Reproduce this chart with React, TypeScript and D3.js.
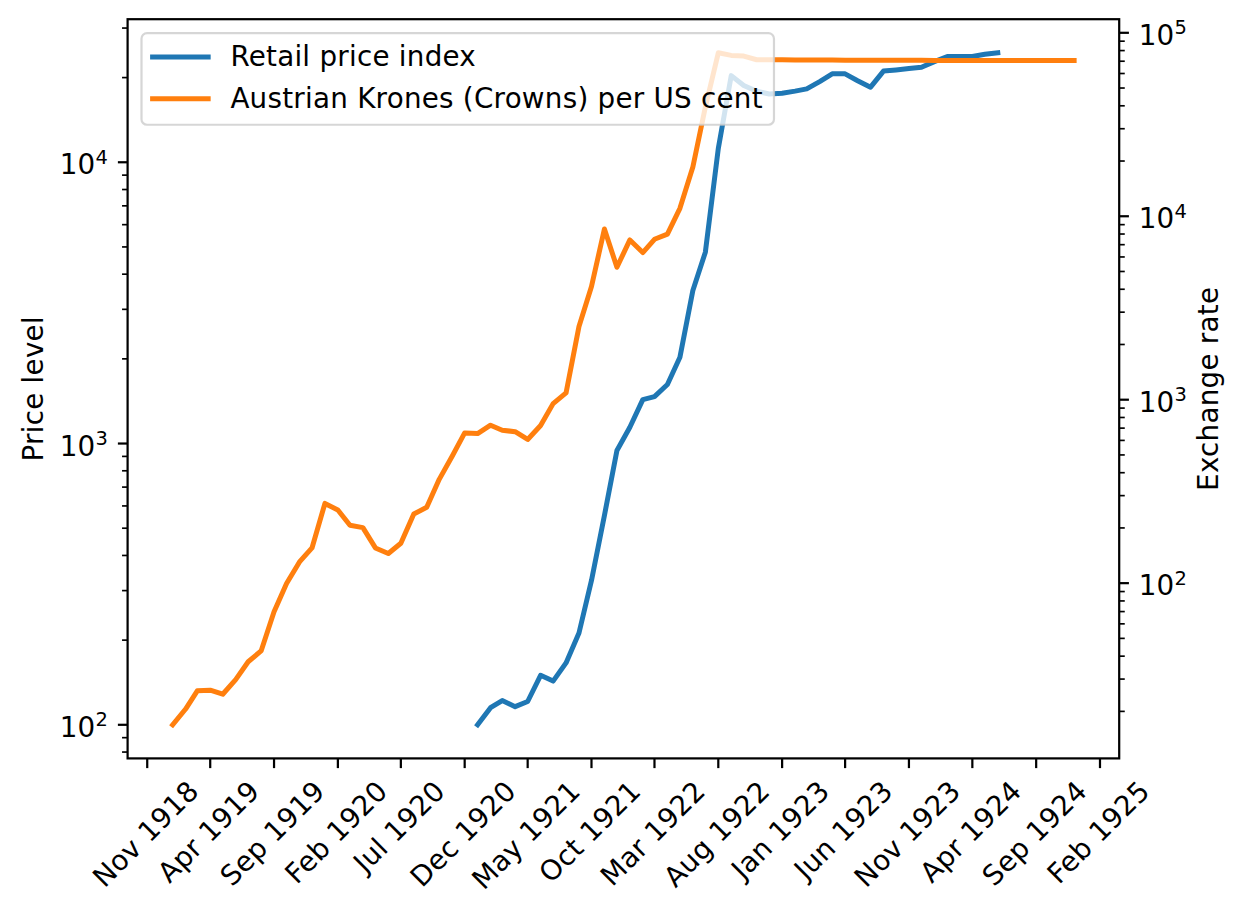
import React from "react";
import * as d3 from "d3";

// ---------------- data ----------------
const exchangeStart = "1919-01-01"; // monthly, Austrian Krones per US cent (right axis)
const exchangeRate = [
  16.9, 20.6, 25.9, 26.1, 24.8, 29.8, 37.3, 42.7, 69.8, 99.6, 130.5, 155.6,
  272, 250.5, 206.7, 200.8, 155.6, 145, 165, 238, 259, 368, 492, 659,
  654, 726, 682, 669, 607, 723, 952, 1089, 2507, 4139, 8518, 5270,
  7430, 6340, 7490, 7990, 11040, 18580, 39370, 77800, 75300, 74650, 71300, 71300,
  71200, 71100, 71000, 71000, 71000, 70900, 70900, 70900, 70800, 70800, 70800, 70800,
  70700, 70700, 70700, 70700, 70700, 70700, 70700, 70700, 70700, 70700, 70700, 70700,
];

const retailStart = "1921-01-01"; // monthly, retail price index (left axis)
const retailPrice = [
  100, 115, 122, 116, 121, 150, 143, 166, 212, 326, 555, 944,
  1143, 1433, 1469, 1621, 2027, 3500, 4790, 11190, 20330, 18750, 17880, 17490,
  17600, 17900, 18230, 19360, 20620, 20620, 19500, 18490, 21090, 21300, 21530, 21770,
  22800, 23770, 23770, 23770, 24200, 24500,
];

const xTickLabels = [
  "Nov 1918", "Apr 1919", "Sep 1919", "Feb 1920", "Jul 1920", "Dec 1920",
  "May 1921", "Oct 1921", "Mar 1922", "Aug 1922", "Jan 1923", "Jun 1923",
  "Nov 1923", "Apr 1924", "Sep 1924", "Feb 1925",
];

const seriesNames = ["Retail price index", "Austrian Krones (Crowns) per US cent"];
const seriesColors = ["#1f77b4", "#ff7f0e"];
const leftLabel = "Price level";
const rightLabel = "Exchange rate";

// ---------------- layout ----------------
const W = 1246;
const H = 916;
const fs = 27.78; // 10pt @ 200dpi
const ls = 0.25; // letter spacing to mimic hinted glyph advances
const left = 127.6;
const top = 19.2;
const pw = 991.6;
const ph = 739.2;
const right = left + pw;
const bottom = top + ph;
const majorLen = 9.72;
const minorLen = 5.56;
const pad = 9.72;
const lw = 5;
const font = "DejaVu Sans";

let ctx: CanvasRenderingContext2D | null = null;
function measure(t: string, size = fs) {
  if (!ctx) ctx = document.createElement("canvas").getContext("2d");
  if (!ctx) return t.length * size * 0.6;
  ctx.font = `${size}px "${font}"`;
  return ctx.measureText(t).width + t.length * ls;
}

function monthly(start: string, vals: number[]) {
  const s = new Date(start + "T00:00:00");
  return vals.map((v, i) => ({ date: d3.timeMonth.offset(s, i), v }));
}

function logDomain(vals: number[]): [number, number] {
  const lo = Math.log10(d3.min(vals)!);
  const hi = Math.log10(d3.max(vals)!);
  const m = (hi - lo) * 0.05;
  return [Math.pow(10, lo - m), Math.pow(10, hi + m)];
}

export default function App() {
  const ex = monthly(exchangeStart, exchangeRate);
  const rp = monthly(retailStart, retailPrice);

  const allDates = [...ex, ...rp].map((d) => +d.date);
  const t0 = d3.min(allDates)!;
  const t1 = d3.max(allDates)!;
  const tm = (t1 - t0) * 0.05;
  const x = d3.scaleTime().domain([new Date(t0 - tm), new Date(t1 + tm)]).range([left, right]);
  const yL = d3.scaleLog().domain(logDomain(retailPrice)).range([bottom, top]);
  const yR = d3.scaleLog().domain(logDomain(exchangeRate)).range([bottom, top]);

  const lineL = d3.line<{ date: Date; v: number }>().x((d) => x(d.date)).y((d) => yL(d.v));
  const lineR = d3.line<{ date: Date; v: number }>().x((d) => x(d.date)).y((d) => yR(d.v));

  const parse = d3.timeParse("%b %Y");
  const xTicks = xTickLabels.map((l) => ({ label: l, date: parse(l)! }));

  const isMajor = (v: number) => Math.abs(Math.log10(v) - Math.round(Math.log10(v))) < 1e-9;
  const ticksL = yL.ticks();
  const ticksR = yR.ticks();

  const supLabel = (v: number, xx: number, yy: number, anchor: "start" | "end", key: string) => (
    <text key={key} x={xx} y={yy + 12} textAnchor={anchor} fontSize={fs} fill="#000">
      10
      <tspan fontSize={fs * 0.7} dy={-10.5}>
        {Math.round(Math.log10(v))}
      </tspan>
    </text>
  );

  // legend
  const lgX = left + 0.5 * fs;
  const lgY = top + 0.5 * fs;
  const bp = 0.4 * fs;
  const handleLen = 2 * fs;
  const textX = lgX + bp + handleLen + 0.8 * fs;
  const maxTW = Math.max(...seriesNames.map((n) => measure(n)));
  const lgW = textX + maxTW + bp - lgX;
  const rowH = fs;
  const lgH = 2 * bp + 2 * rowH + 0.5 * fs;

  return (
    <svg
      width={W}
      height={H}
      style={{ position: "absolute", left: 0, top: 0, background: "#fff", letterSpacing: `${ls}px` }}
      fontFamily={font}
    >
      <defs>
        <clipPath id="plotclip">
          <rect x={left} y={top} width={pw} height={ph} />
        </clipPath>
      </defs>
      <rect x={0} y={0} width={W} height={H} fill="#fff" />

      {/* lines */}
      <g clipPath="url(#plotclip)" fill="none" strokeWidth={lw} strokeLinejoin="round" strokeLinecap="square">
        <path d={lineL(rp)!} stroke={seriesColors[0]} />
        <path d={lineR(ex)!} stroke={seriesColors[1]} />
      </g>

      {/* x ticks */}
      {xTicks.map((t, i) => {
        const xx = x(t.date);
        const tw = measure(t.label);
        const th = fs * 0.996;
        const cy = bottom + majorLen + pad + ((tw + th) * 0.7071) / 2;
        return (
          <g key={"xt" + i}>
            <line x1={xx} x2={xx} y1={bottom} y2={bottom + majorLen} stroke="#000" strokeWidth={2.22} />
            <text
              transform={`translate(${xx},${cy}) rotate(-45)`}
              x={0}
              y={0.262 * fs}
              textAnchor="middle"
              fontSize={fs}
              fill="#000"
            >
              {t.label}
            </text>
          </g>
        );
      })}

      {/* left y ticks */}
      {ticksL.map((v, i) => {
        const yy = yL(v);
        const maj = isMajor(v);
        return (
          <g key={"yl" + i}>
            <line
              x1={left}
              x2={left - (maj ? majorLen : minorLen)}
              y1={yy}
              y2={yy}
              stroke="#000"
              strokeWidth={maj ? 2.22 : 1.67}
            />
            {maj && supLabel(v, left - majorLen - pad, yy, "end", "yll" + i)}
          </g>
        );
      })}

      {/* right y ticks */}
      {ticksR.map((v, i) => {
        const yy = yR(v);
        const maj = isMajor(v);
        return (
          <g key={"yr" + i}>
            <line
              x1={right}
              x2={right + (maj ? majorLen : minorLen)}
              y1={yy}
              y2={yy}
              stroke="#000"
              strokeWidth={maj ? 2.22 : 1.67}
            />
            {maj && supLabel(v, right + majorLen + pad, yy, "start", "yrl" + i)}
          </g>
        );
      })}

      {/* spines */}
      <rect x={left} y={top} width={pw} height={ph} fill="none" stroke="#000" strokeWidth={2.22} />

      {/* axis labels */}
      <text
        transform={`translate(43,${top + ph / 2}) rotate(-90)`}
        textAnchor="middle"
        fontSize={fs}
        fill="#000"
      >
        {leftLabel}
      </text>
      <text
        transform={`translate(1218,${top + ph / 2}) rotate(-90)`}
        textAnchor="middle"
        fontSize={fs}
        fill="#000"
      >
        {rightLabel}
      </text>

      {/* legend */}
      <g>
        <rect
          x={lgX}
          y={lgY}
          width={lgW}
          height={lgH}
          rx={0.2 * fs}
          ry={0.2 * fs}
          fill="#fff"
          fillOpacity={0.8}
          stroke="#cccccc"
          strokeOpacity={0.8}
          strokeWidth={2.2}
        />
        {seriesNames.map((n, i) => {
          const base = lgY + bp + fs * 0.76 + i * (rowH + 0.5 * fs) + 0.6;
          const hy = base - 0.32 * fs;
          return (
            <g key={"lg" + i}>
              <line
                x1={lgX + bp}
                x2={lgX + bp + handleLen}
                y1={hy}
                y2={hy}
                stroke={seriesColors[i]}
                strokeWidth={lw}
                strokeLinecap="square"
              />
              <text x={textX} y={base} fontSize={fs} fill="#000">
                {n}
              </text>
            </g>
          );
        })}
      </g>
    </svg>
  );
}
